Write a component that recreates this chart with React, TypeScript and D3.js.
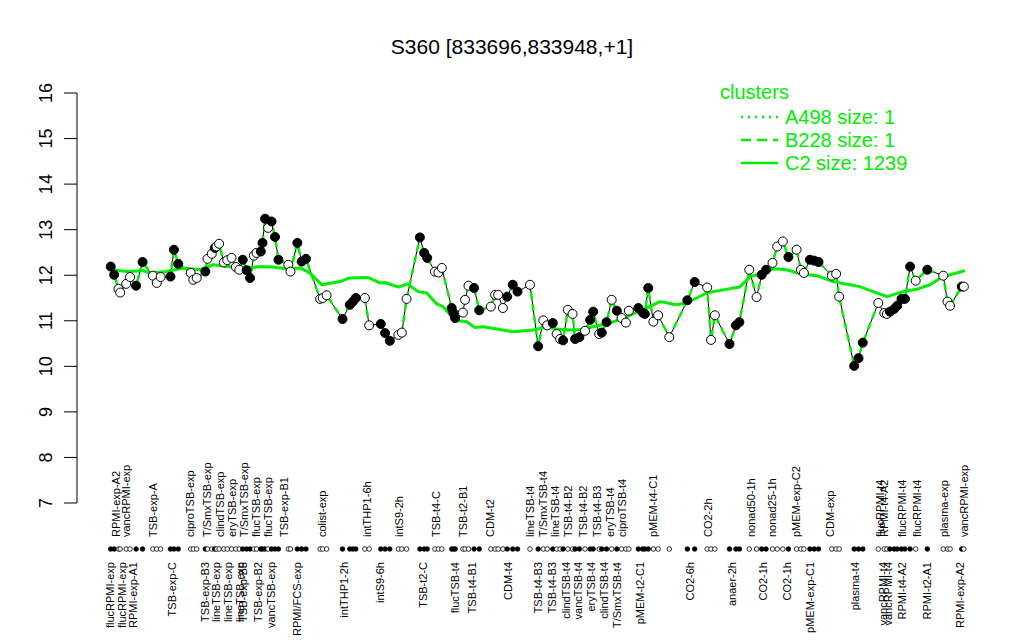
import React, { useEffect, useRef } from "react";
import * as d3 from "d3";

// sample position (index units), expression value, filled marker
const samplePos = [
  1.1, 1.9, 2.9, 3.3, 4.7, 5.6, 7.0, 8.5, 10.9, 11.8, 12.7, 15.0, 15.8, 16.8, 19.7, 20.3, 21.1,
  23.1, 23.6, 24.6, 25.3, 25.7, 26.3, 27.4, 28.2, 29.2, 30.2, 31.0, 31.8, 32.7, 33.5, 34.4, 35.0,
  36.0, 36.4, 37.0, 37.7, 38.5, 39.3, 40.1, 42.4, 42.9, 44.5, 45.5, 46.5, 49.8, 50.4, 51.3, 55.0,
  56.7, 57.4, 58.1, 60.2, 61.2, 63.9, 64.9, 66.0, 68.0, 68.8, 69.9, 73.0, 74.0, 74.7, 76.5, 77.3,
  78.1, 80.4, 80.8, 81.2, 83.0, 83.5, 84.3, 85.6, 86.8, 89.5, 90.5, 91.2, 92.3, 93.3, 94.6, 95.7,
  98.6, 100.5, 101.7, 102.6, 103.9, 104.8, 105.6, 106.3, 107.4, 108.5, 109.1, 110.1, 111.4, 112.6,
  113.3, 114.7, 115.3, 116.4, 117.6, 118.8, 119.9, 120.9, 121.6, 123.8, 124.8, 125.3, 126.1, 127.3,
  128.4, 131.0, 135.2, 136.9, 139.8, 140.7, 141.6, 145.0, 146.5, 147.3, 149.6, 151.3, 152.5, 153.5,
  155.0, 156.1, 157.4, 158.7, 160.6, 161.6, 162.3, 163.7, 164.7, 165.7, 168.8, 169.8, 170.5, 174.0,
  175.0, 176.0, 179.6, 181.0, 181.6, 182.3, 183.3, 184.0, 185.0, 185.8, 187.0, 188.3, 191.0, 194.7,
  195.7, 196.3, 199.0, 199.5,
];
const sampleValues = [
  12.19, 12.01, 11.7, 11.62, 11.81, 11.96, 11.77, 12.29, 11.99, 11.83, 11.96, 11.97, 12.56, 12.25,
  12.05, 11.9, 11.94, 12.08, 12.36, 12.47, 12.6, 12.63, 12.69, 12.28, 12.33, 12.38, 12.18, 12.12,
  12.34, 12.11, 11.94, 12.43, 12.49, 12.52, 12.71, 13.24, 13.04, 13.18, 12.84, 12.34, 12.23, 12.08,
  12.71, 12.3, 12.36, 11.48, 11.5, 11.56, 11.04, 11.35, 11.42, 11.5, 11.5, 10.9, 10.93, 10.73,
  10.56, 10.69, 10.74, 11.48, 12.83, 12.49, 12.38, 12.08, 12.06, 12.16, 11.28, 11.17, 11.06, 11.18,
  11.46, 11.77, 11.72, 11.23, 11.31, 11.57, 11.57, 11.28, 11.53, 11.79, 11.64, 11.79, 10.44, 11.01,
  10.9, 10.95, 10.71, 10.6, 10.57, 11.24, 11.15, 10.6, 10.64, 10.78, 11.02, 11.2, 10.71, 10.74,
  10.97, 11.46, 11.22, 11.06, 10.96, 11.22, 11.28, 11.18, 11.15, 11.72, 10.98, 11.12, 10.64, 11.45,
  11.85, 11.73, 10.58, 11.12, 10.49, 10.9, 10.97, 12.12, 11.52, 12.01, 12.12, 12.27, 12.63, 12.74,
  12.4, 12.56, 12.12, 12.05, 12.34, 12.32, 12.29, 11.99, 12.03, 11.53, 10.01, 10.18, 10.52, 11.39,
  11.17, 11.15, 11.2, 11.26, 11.33, 11.48, 11.48, 12.19, 11.88, 12.12, 11.99, 11.42, 11.33, 11.75,
  11.75,
];
const sampleFilled = "FFOOOOFFOOOFFFOOOFOOFOOOOOOOFFFOOFFFOFFFOOFFFOOOFFFFOOFFFOOOFFFOOOFFFOOOFFOOOOFFFOFOOFOOFOOFFOFFOFFOFOOOFFFFOOOFFOOOFFFOOFFOOOFOOOFFFOOOFFFOOOFFFFFFOFOOOFO";

// cluster C2 mean profile
const c2Pos = [
  1.6, 4.8, 8.6, 10.2, 14.1, 17.9, 21.9, 24.9, 29.5, 32.7, 35.8, 38.8, 42.0, 45.1, 47.4, 50.2, 54.4,
  56.7, 61.0, 63.7, 64.9, 68.0, 70.1, 72.6, 74.6, 76.9, 78.4, 81.2, 83.9, 85.8, 87.7, 90.9, 94.7,
  99.4, 102.5, 104.8, 107.9, 110.2, 113.3, 117.2, 121.1, 124.9, 128.8, 132.7, 135.0, 139.7, 141.2,
  147.4, 149.8, 152.9, 155.2, 158.3, 161.4, 165.3, 169.1, 173.0, 175.3, 178.4, 181.6, 185.4, 188.5,
  191.6, 194.7, 196.3, 199.8,
];
const c2Values = [
  12.12, 12.08, 12.1, 12.05, 12.08, 12.16, 12.12, 12.23, 12.18, 12.16, 12.19, 12.18, 12.14, 12.16,
  12.05, 11.79, 11.86, 11.94, 11.95, 11.83, 11.84, 11.74, 11.81, 11.64, 11.61, 11.37, 11.31, 11.01,
  10.98, 10.85, 10.87, 10.82, 10.76, 10.8, 10.87, 10.82, 10.8, 10.81, 10.87, 10.95, 11.09, 11.24,
  11.42, 11.35, 11.39, 11.61, 11.64, 11.74, 11.97, 12.05, 12.14, 12.12, 12.03, 11.99, 11.86, 11.79,
  11.75, 11.64, 11.53, 11.64, 11.69, 11.79, 11.97, 12.01, 12.1,
];

const labelsBelow = [
  "flucRPMI-exp", "flucRPMI-exp", "RPMI-exp-A1", "TSB-exp-C", "TSB-exp-B3", "lineTSB-exp",
  "lineTSB-exp", "lineTSB-exp", "TSB-exp-B5", "TSB-exp-B2", "vancTSB-exp", "RPMI/FCS-exp",
  "intTHP1-2h", "intS9-6h", "TSB-t2-C", "flucTSB-t4", "TSB-t4-B1", "CDM-t4", "TSB-t4-B3",
  "TSB-t4-B3", "clindTSB-t4", "vancTSB-t4", "eryTSB-t4", "clindTSB-t4", "T/SmxTSB-t4",
  "pMEM-t2-C1", "CO2-6h", "anaer-2h", "CO2-1h", "CO2-1h", "pMEM-exp-C1", "plasma-t4",
  "vancRPMI-t4", "vancRPMI-t4", "RPMI-t4-A2", "RPMI-t2-A1", "RPMI-exp-A2",
];
const labelsBelowPos = [
  0.9, 3.7, 6.3, 15.3, 23.0, 25.6, 28.4, 31.2, 31.9, 35.3, 38.4, 44.4, 55.3, 63.7, 73.7, 81.2,
  85.1, 93.5, 100.5, 103.7, 107.0, 109.8, 112.8, 115.8, 118.8, 124.2, 135.8, 145.6, 152.8, 158.4,
  163.7, 174.2, 180.7, 181.9, 185.1, 190.9, 198.6,
];
const labelsAbove = [
  "RPMI-exp-A2", "vancRPMI-exp", "TSB-exp-A", "ciproTSB-exp", "T/SmxTSB-exp", "clindTSB-exp",
  "eryTSB-exp", "T/SmxTSB-exp", "flucTSB-exp", "flucTSB-exp", "TSB-exp-B1", "colist-exp",
  "intTHP1-6h", "intS9-2h", "TSB-t4-C", "TSB-t2-B1", "CDM-t2", "lineTSB-t4", "T/SmxTSB-t4",
  "lineTSB-t4", "TSB-t4-B2", "TSB-t4-B2", "TSB-t4-B3", "eryTSB-t4", "ciproTSB-t4", "pMEM-t4-C1",
  "CO2-2h", "nonad50-1h", "nonad25-1h", "pMEM-exp-C2", "CDM-exp", "flucRPMI-t4", "RPMI-t4-A2",
  "flucRPMI-t4", "flucRPMI-t4", "plasma-exp", "vancRPMI-exp",
];
const labelsAbovePos = [
  2.3, 4.7, 10.9, 19.5, 23.5, 26.5, 29.3, 32.1, 34.9, 37.7, 41.4, 50.2, 60.7, 68.1, 76.7, 83.0,
  89.3, 98.6, 101.6, 104.4, 107.4, 110.9, 114.2, 117.2, 120.0, 127.2, 140.0, 150.0, 154.9, 160.5,
  168.4, 180.0, 180.9, 185.1, 188.6, 194.9, 199.5,
];

const yTicks = [7, 8, 9, 10, 11, 12, 13, 14, 15, 16];
const legendItems = [
  { label: "A498 size: 1", dash: "2 5" },
  { label: "B228 size: 1", dash: "10 6" },
  { label: "C2 size: 1239", dash: null },
];

const GREEN = "#00ee00";
const FONT = "Liberation Sans, Arial, Helvetica, sans-serif";

export default function App() {
  const ref = useRef<SVGSVGElement>(null);

  useEffect(() => {
    const svg = d3.select(ref.current);
    svg.selectAll("*").remove();

    const x = d3.scaleLinear().domain([0, 200]).range([106, 966]);
    const y = d3.scaleLinear().domain([7, 16]).range([503, 93]);

    const samples = samplePos.map((p, i) => ({
      pos: p,
      value: sampleValues[i],
      filled: sampleFilled[i] === "F",
    }));
    const c2 = c2Pos.map((p, i) => ({ pos: p, value: c2Values[i] }));

    // title
    svg
      .append("text")
      .attr("x", 512)
      .attr("y", 54)
      .attr("text-anchor", "middle")
      .style("font-family", FONT)
      .style("font-size", "21px")
      .text("S360 [833696,833948,+1]");

    // y axis
    const yAxis = svg.append("g").attr("transform", "translate(77,0)");
    yAxis
      .append("line")
      .attr("y1", y(16))
      .attr("y2", y(7))
      .attr("stroke", "black");
    yTicks.forEach((t) => {
      yAxis
        .append("line")
        .attr("x1", -13)
        .attr("x2", 0)
        .attr("y1", y(t))
        .attr("y2", y(t))
        .attr("stroke", "black");
      yAxis
        .append("text")
        .attr("transform", `translate(-25,${y(t)}) rotate(-90)`)
        .attr("text-anchor", "middle")
        .style("font-family", FONT)
        .style("font-size", "18px")
        .text(t);
    });

    const line = d3
      .line<{ pos: number; value: number }>()
      .x((d) => x(d.pos))
      .y((d) => y(d.value));

    // gene profile: black line with green dashed overlay
    svg
      .append("path")
      .datum(samples)
      .attr("d", line)
      .attr("fill", "none")
      .attr("stroke", "black")
      .attr("stroke-width", 1);
    svg
      .append("path")
      .datum(samples)
      .attr("d", line)
      .attr("fill", "none")
      .attr("stroke", GREEN)
      .attr("stroke-width", 2.5)
      .attr("stroke-dasharray", "7 5");

    // cluster mean
    svg
      .append("path")
      .datum(c2)
      .attr("d", line)
      .attr("fill", "none")
      .attr("stroke", GREEN)
      .attr("stroke-width", 3)
      .attr("stroke-linejoin", "round");

    // points
    svg
      .append("g")
      .selectAll("circle")
      .data(samples)
      .join("circle")
      .attr("cx", (d) => x(d.pos))
      .attr("cy", (d) => y(d.value))
      .attr("r", 4.5)
      .attr("fill", (d) => (d.filled ? "black" : "white"))
      .attr("stroke", "black")
      .attr("stroke-width", 1);

    // sample strip
    const stripY = 549;
    svg
      .append("g")
      .selectAll("circle")
      .data(samples)
      .join("circle")
      .attr("cx", (d) => x(d.pos))
      .attr("cy", stripY)
      .attr("r", 2.3)
      .attr("fill", (d) => (d.filled ? "black" : "white"))
      .attr("stroke", "black")
      .attr("stroke-width", 0.8);

    labelsAbove.forEach((lab, i) => {
      svg
        .append("text")
        .attr("transform", `translate(${x(labelsAbovePos[i]) + 4},537) rotate(-90)`)
        .attr("text-anchor", "start")
        .style("font-family", FONT)
        .style("font-size", "11px")
        .text(lab);
    });
    labelsBelow.forEach((lab, i) => {
      svg
        .append("text")
        .attr("transform", `translate(${x(labelsBelowPos[i]) + 4},562) rotate(-90)`)
        .attr("text-anchor", "end")
        .style("font-family", FONT)
        .style("font-size", "11px")
        .text(lab);
    });

    // legend
    const legend = svg.append("g").attr("transform", "translate(720,0)");
    legend
      .append("text")
      .attr("x", 0)
      .attr("y", 99)
      .attr("fill", GREEN)
      .style("font-family", FONT)
      .style("font-size", "20px")
      .text("clusters");
    legendItems.forEach((item, i) => {
      const ly = 117 + i * 23;
      legend
        .append("line")
        .attr("x1", 21)
        .attr("x2", 58)
        .attr("y1", ly)
        .attr("y2", ly)
        .attr("stroke", GREEN)
        .attr("stroke-width", 2.5)
        .attr("stroke-dasharray", item.dash ?? null);
      legend
        .append("text")
        .attr("x", 65)
        .attr("y", ly + 7)
        .attr("fill", GREEN)
        .style("font-family", FONT)
        .style("font-size", "20px")
        .text(item.label);
    });
  }, []);

  return (
    <svg
      ref={ref}
      width={1024}
      height={640}
      style={{ position: "absolute", left: 0, top: 0, background: "white" }}
    />
  );
}
